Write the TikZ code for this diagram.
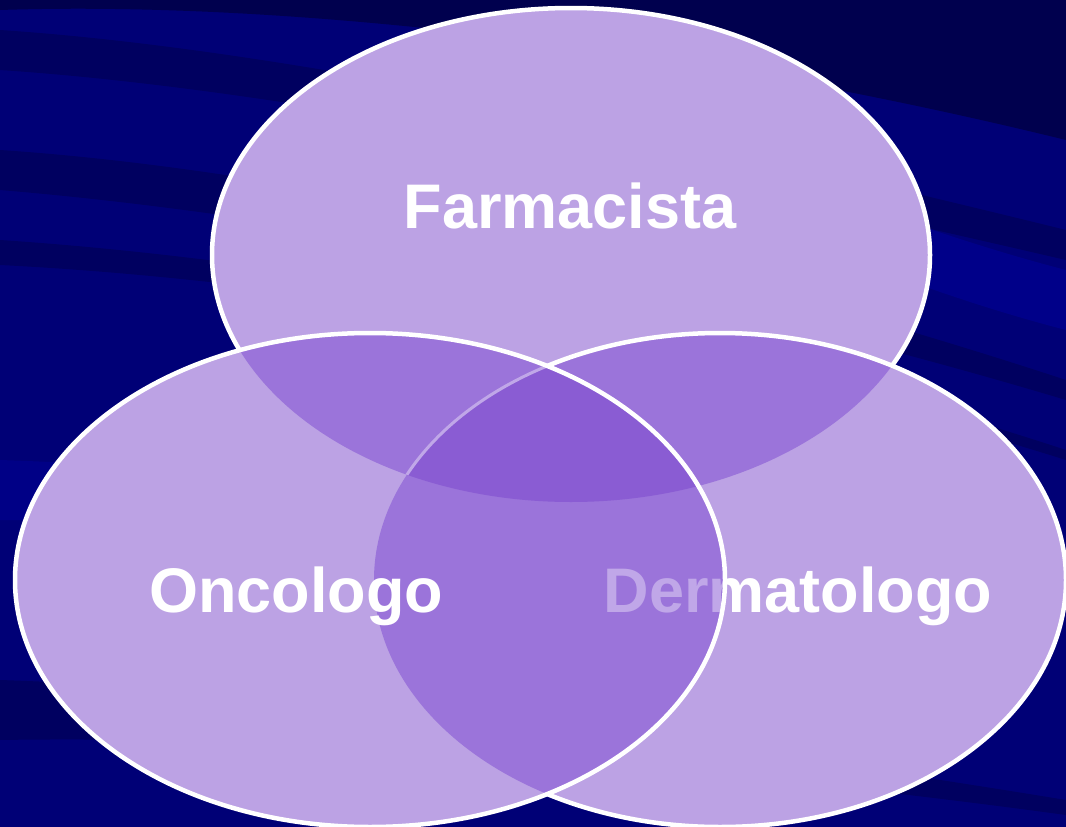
\documentclass[tikz,border=0pt]{standalone}
\usepackage{fontspec}
\setmainfont{Liberation Sans}
\definecolor{bgnavy}{RGB}{0,0,118}
\definecolor{bgdark}{RGB}{0,0,78}
\definecolor{bglight}{RGB}{0,0,150}
\definecolor{lav}{RGB}{188,162,228}
\definecolor{lavtwo}{RGB}{155,116,218}
\definecolor{lavthree}{RGB}{138,92,211}
\definecolor{lavtext}{RGB}{192,167,232}
\tikzset{
  rim/.style={draw=white, line width=4.5pt},
  faintrim/.style={draw=lavtext, line width=3pt},
  streak/.style={fill=bgdark, opacity=0.55},
  label/.style={font=\fontsize{63}{75}\bfseries\selectfont, text=white, anchor=base, inner sep=0pt}
}
\begin{document}
\begin{tikzpicture}[x=1pt,y=-1pt]
\useasboundingbox (0,0) rectangle (1066,827);
% background
\fill[bgnavy] (0,0) rectangle (1066,827);
\fill[bgdark] (0,0) -- (1066,0) -- (1066,140) .. controls (700,50) and (300,0) .. (0,10) -- cycle;
\fill[streak] (0,30) .. controls (300,50) and (700,140) .. (1066,230) -- (1066,260) .. controls (700,175) and (300,90) .. (0,70) -- cycle;
\fill[streak] (0,150) .. controls (300,170) and (700,260) .. (1066,380) -- (1066,400) .. controls (700,290) and (300,215) .. (0,190) -- cycle;
\fill[streak] (0,240) .. controls (300,260) and (700,330) .. (1066,450) -- (1066,460) .. controls (700,345) and (300,280) .. (0,265) -- cycle;
\fill[streak] (0,680) .. controls (300,690) and (700,740) .. (1066,800) -- (1066,815) .. controls (700,765) and (300,735) .. (0,740) -- cycle;
\fill[bglight, opacity=0.5] (0,460) .. controls (300,470) and (700,520) .. (1066,560) -- (1066,600) .. controls (700,560) and (300,520) .. (0,520) -- cycle;
\fill[bglight, opacity=0.6] (700,150) .. controls (850,200) and (950,240) .. (1066,270) -- (1066,330) .. controls (950,300) and (850,260) .. (700,200) -- cycle;
% top circle
\fill[lav] (571,255) ellipse [x radius=359pt, y radius=247pt];
\path[rim] (571,255) ellipse [x radius=359pt, y radius=247pt];
% right circle
\fill[lav] (720,580) ellipse [x radius=346pt, y radius=247pt];
\begin{scope}
  \clip (571,255) ellipse [x radius=359pt, y radius=247pt];
  \fill[lavtwo] (720,580) ellipse [x radius=346pt, y radius=247pt];
\end{scope}
\path[rim] (720,580) ellipse [x radius=346pt, y radius=247pt];
% Dermatologo text (white part)
\node[label] (derm) at (798,612) {Dermatologo};
% left circle
\fill[lav] (370,580) ellipse [x radius=355pt, y radius=247pt];
\begin{scope}
  \clip (370,580) ellipse [x radius=355pt, y radius=247pt];
  \fill[lavtwo] (571,255) ellipse [x radius=359pt, y radius=247pt];
  \fill[lavtwo] (720,580) ellipse [x radius=346pt, y radius=247pt];
  \begin{scope}
    \clip (571,255) ellipse [x radius=359pt, y radius=247pt];
    \fill[lavthree] (720,580) ellipse [x radius=346pt, y radius=247pt];
    \path[faintrim] (720,580) ellipse [x radius=346pt, y radius=247pt];
  \end{scope}
  % faded part of Dermatologo
  \node[label, text=lavtext] (dermfaded) at (798,612) {Dermatologo};
\end{scope}
\path[rim] (370,580) ellipse [x radius=355pt, y radius=247pt];
% labels
\node[label] (farm) at (570,228) {Farmacista};
\node[label] (onco) at (296,612) {Oncologo};
\end{tikzpicture}
\end{document}
